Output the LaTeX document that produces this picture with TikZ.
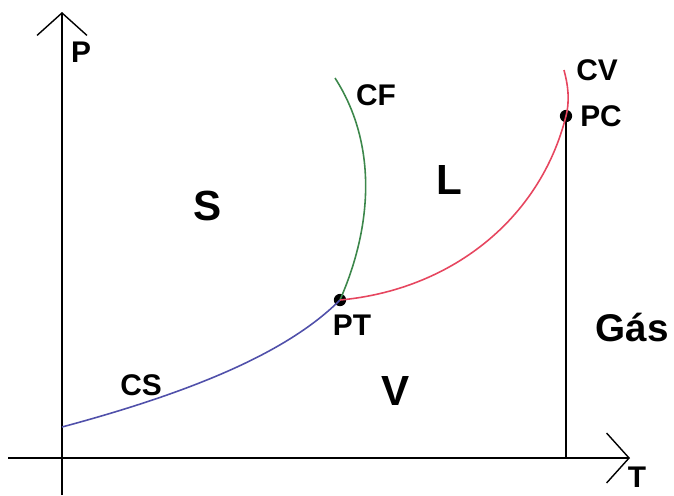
\documentclass[tikz,border=0pt]{standalone}
\usepackage{fontspec}
\setmainfont{Liberation Sans}
\usetikzlibrary{arrows.meta}

\definecolor{csblue}{RGB}{80,80,170}
\definecolor{cfgreen}{RGB}{60,135,75}
\definecolor{cvred}{RGB}{230,70,95}

\begin{document}
\begin{tikzpicture}[
    x=0.02cm, y=-0.02cm,
    % Axis Style (open arrow head)
    axis/.style={line width=1.1pt, -{Straight Barb[length=0.45cm, width=1.0cm, line width=0.8pt]}},
    % Phase Boundary Style
    boundary/.style={line width=0.9pt},
    % Small Label Style
    lbl/.style={font=\bfseries\fontsize{17}{20}\selectfont, inner sep=0pt},
    % Region Label Style
    region/.style={font=\bfseries\fontsize{24}{28}\selectfont, inner sep=0pt},
    % Special Point Style
    spot/.style={fill, circle, minimum size=7pt, inner sep=0pt}
]
\useasboundingbox (0,0) rectangle (674,495);

% ================= Points =================
\coordinate (pbot) at (62,495);
\coordinate (ptop) at (62,12);
\coordinate (tleft) at (8,458);
\coordinate (tright) at (630,458);
\coordinate (csstart) at (62,427);
\coordinate (cftop) at (335,78);
\coordinate (cvtop) at (564,70);
\coordinate (pcfoot) at (566,458);
\node[spot] (pt) at (340,300) {};
\node[spot] (pc) at (566,116) {};

% ================= Axes =================
\draw[axis] (pbot) -- (ptop);
\draw[axis] (tleft) -- (tright);
\draw[line width=1.1pt] (pcfoot) -- (pc.center);

% ================= Curves =================
\draw[boundary, csblue] (csstart) .. controls (200,390) and (290,350) .. (pt.center);
\draw[boundary, cfgreen] (pt.center) .. controls (375,220) and (375,140) .. (cftop);
\draw[boundary, cvred] (pt.center) .. controls (450,290) and (540,220) .. (pc.center)
    .. controls (570,100) and (568,85) .. (cvtop);

% ================= Labels =================
\node[lbl] (plbl) at (81,52) {P};
\node[lbl] (tlbl) at (637,477) {T};
\node[lbl] (ptlbl) at (352,325) {PT};
\node[lbl] (pclbl) at (601,116) {PC};
\node[lbl] (cvlbl) at (597,70) {CV};
\node[lbl] (cflbl) at (376,95) {CF};
\node[lbl] (cslbl) at (141,385) {CS};
\node[region] (slbl) at (208,206) {S};
\node[region] (llbl) at (449,180) {L};
\node[region] (vlbl) at (396,391) {V};
\node[region, font=\bfseries\fontsize{22}{26}\selectfont] (gas) at (632,328) {Gás};
\end{tikzpicture}
\end{document}
